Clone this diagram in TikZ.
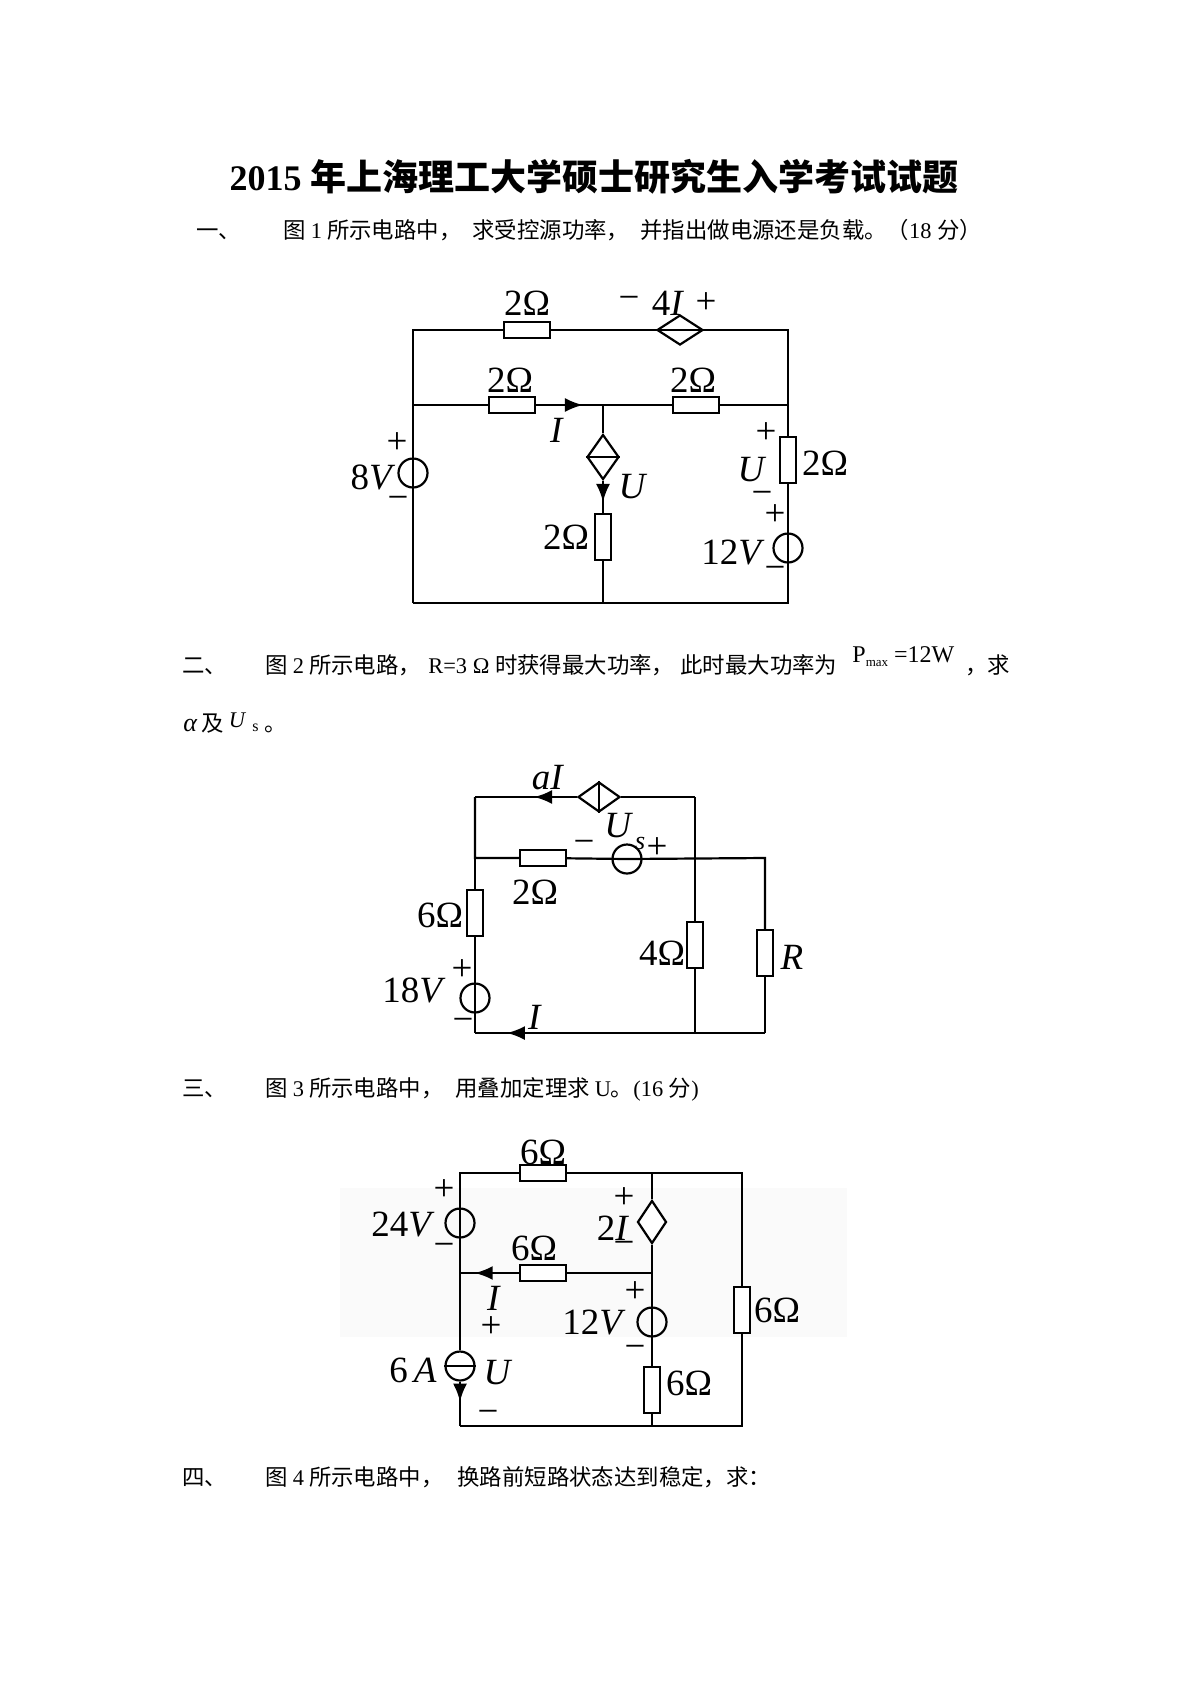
\documentclass[tikz,border=0pt]{standalone}
\usepackage{fontspec}
\setmainfont{Liberation Serif}
\newfontfamily\cjk{Noto Sans CJK SC}
\usetikzlibrary{shapes.geometric, arrows.meta, decorations.markings}
\newcommand{\cfont}{\fontsize{18.5pt}{18.5pt}\selectfont}
\newcommand{\zhfont}{\fontsize{11.2pt}{13pt}\selectfont\cjk}

\tikzset{
  wire/.style={line width=1.1pt},
  res/.style={draw, line width=1.1pt, fill=white, rectangle, minimum width=23pt, minimum height=8pt, inner sep=0pt},
  vres/.style={res, minimum width=8pt, minimum height=23pt},
  src/.style={draw, line width=1.1pt, circle, minimum size=14.5pt, inner sep=0pt},
  dep/.style={draw, line width=1.1pt, diamond, fill=white, inner sep=0pt},
  lbl/.style={font=\cfont, inner sep=0pt},
  txt/.style={font=\zhfont, anchor=base west, inner sep=0pt},
  flow/.style={postaction={decorate}, decoration={markings, mark=at position #1 with {\arrow{Latex[length=9pt,width=7pt]}}}},
}

\begin{document}
\begin{tikzpicture}[x=0.5pt, y=-0.5pt]
  \useasboundingbox (0,0) rectangle (1190,1683);
  \fill[white] (0,0) rectangle (1190,1683);

  % title and questions
  \node[font=\fontsize{18pt}{20pt}\selectfont, anchor=base, inner sep=0pt] (title) at (594,190)
    {\textbf{2015} {\cjk\bfseries 年上海理工大学硕士研究生入学考试试题}};

  \node[txt] (q1) at (196,238) {一、};
  \node[txt] (q1a) at (283,238) {图 {\rmfamily 1} 所示电路中，};
  \node[txt] (q1b) at (472,238) {求受控源功率，};
  \node[txt] (q1c) at (640,238) {并指出做电源还是负载。（{\rmfamily 18 }分）};

  \node[txt] (q2) at (182,673) {二、};
  \node[txt] (q2a) at (265,673) {图 {\rmfamily 2} 所示电路，};
  \node[txt] (q2b) at (428,673) {{\rmfamily R=3 Ω }时获得最大功率，};
  \node[txt] (q2c) at (680,673) {此时最大功率为};
  \node[txt] (q2d) at (852,662) {\rmfamily\fontsize{12pt}{12pt}\selectfont P\raisebox{-2pt}{\fontsize{6.5pt}{7pt}\selectfont max} =12W};
  \node[txt] (q2e) at (965,673) {，求};
  \node[txt] (q2f) at (183,731) {\rmfamily{\fontsize{13pt}{13pt}\selectfont\textit{α}}\hspace{2pt}{\cjk 及}\hspace{2.5pt}\raisebox{2pt}{\textit{U}}\hspace{3pt}{\fontsize{8pt}{8pt}\selectfont s}\hspace{3pt}{\cjk 。}};

  \node[txt] (q3) at (182,1096) {三、};
  \node[txt] (q3a) at (265,1096) {图 {\rmfamily 3} 所示电路中，};
  \node[txt] (q3b) at (455,1096) {用叠加定理求 {\rmfamily U}。{\rmfamily (16 }分{\rmfamily )}};

  \node[txt] (q4) at (182,1485) {四、};
  \node[txt] (q4a) at (265,1485) {图 {\rmfamily 4} 所示电路中，};
  \node[txt] (q4b) at (457,1485) {换路前短路状态达到稳定，求：};

  % figure 1
  \coordinate (a1) at (413,330);
  \coordinate (a2) at (788,330);
  \coordinate (a3) at (413,405);
  \coordinate (a4) at (603,405);
  \coordinate (a5) at (788,405);
  \coordinate (a6) at (413,603);
  \coordinate (a7) at (603,603);
  \coordinate (a8) at (788,603);

  \node[res] (r1) at (527,330) {};
  \node[dep, minimum width=23pt, minimum height=15pt] (d1) at (680,330) {};
  \node[res] (r2) at (512,405) {};
  \node[res] (r3) at (696,405) {};
  \node[dep, minimum width=16pt, minimum height=22.5pt] (d2) at (603,457) {};
  \node[vres] (r4) at (603,537) {};
  \node[vres] (r5) at (788,460) {};
  \node[src] (v12) at (788,548) {};
  \node[src] (v8) at (413,473) {};

  \draw[wire] (a6) -- (v8.center) -- (a1) -- (r1) -- (d1) -- (a2) -- (r5);
  \draw[wire] (r5) -- (v12.center) -- (a8) -- (a6);
  \draw[wire] (a3) -- (r2);
  \draw[wire, flow=0.7] (r2) -- (a4);
  \draw[wire] (a4) -- (r3) -- (a5);
  \draw[wire] (a4) -- (d2);
  \draw[wire, flow=0.66] (d2) -- (r4);
  \draw[wire] (r4) -- (a7);
  \draw[wire] (d1.west) -- (d1.east);
  \draw[wire] (d2.west) -- (d2.east);

  \node[lbl] (l1) at (527,303) {2Ω};
  \node[lbl] (l2) at (629,303) {−};
  \node[lbl] (l3) at (668,303) {4\textit{I}};
  \node[lbl] (l4) at (706,303) {+};
  \node[lbl] (l5) at (510,380) {2Ω};
  \node[lbl] (l6) at (693,380) {2Ω};
  \node[lbl] (l7) at (557,430) {\textit{I}};
  \node[lbl] (l8) at (633,487) {\textit{U}};
  \node[lbl] (l9) at (566,537) {2Ω};
  \node[lbl] (l10) at (825,463) {2Ω};
  \node[lbl] (l11) at (766,433) {+};
  \node[lbl] (l12) at (752,470) {\textit{U}};
  \node[lbl] (l13) at (762,498) {−};
  \node[lbl] (l14) at (775,515) {+};
  \node[lbl] (l15) at (733,553) {12\textit{V}};
  \node[lbl] (l16) at (775,573) {−};
  \node[lbl] (l17) at (373,477) {8\textit{V}};
  \node[lbl] (l18) at (397,443) {+};
  \node[lbl] (l19) at (398,503) {−};

  % figure 2
  \coordinate (b1) at (475,797);
  \coordinate (b2) at (695,797);
  \coordinate (b3) at (475,858);
  \coordinate (b4) at (695,858);
  \coordinate (b5) at (765,858);
  \coordinate (b6) at (475,1033);
  \coordinate (b7) at (695,1033);
  \coordinate (b8) at (765,1033);

  \node[dep, minimum width=21pt, minimum height=15pt] (d3) at (599,797) {};
  \node[res] (r6) at (543,858) {};
  \node[src] (us) at (627,859) {};
  \node[vres] (r7) at (475,913) {};
  \node[src] (v18) at (475,998) {};
  \node[vres] (r8) at (695,945) {};
  \node[vres] (r9) at (765,953) {};

  \draw[wire] (b2) -- (d3);
  \draw[wire, flow=0.42] (d3) -- (b1);
  \draw[wire] (b1) -- (b3) -- (r6) -- (us.center) -- (b5) -- (r9);
  \draw[wire] (b2) -- (r8);
  \draw[wire] (r8) -- (b7);
  \draw[wire] (b3) -- (r7) -- (v18.center) -- (b6);
  \draw[wire] (r9) -- (b8);
  \draw[wire, flow=0.89] (b8) -- (b6);
  \draw[wire] (d3.north) -- (d3.south);

  \node[lbl] (m1) at (548,778) {\textit{aI}};
  \node[lbl, anchor=base west] (m2) at (604,837) {\textit{U}\kern1pt\raisebox{-6pt}{\fontsize{13pt}{13pt}\selectfont\textit{s}}};
  \node[lbl] (m3) at (584,847) {−};
  \node[lbl] (m4) at (657,848) {+};
  \node[lbl] (m5) at (535,892) {2Ω};
  \node[lbl] (m6) at (440,915) {6Ω};
  \node[lbl] (m7) at (414,990) {18\textit{V}};
  \node[lbl] (m8) at (462,970) {+};
  \node[lbl] (m9) at (463,1025) {−};
  \node[lbl] (m10) at (535,1017) {\textit{I}};
  \node[lbl] (m11) at (662,953) {4Ω};
  \node[lbl] (m12) at (792,957) {\textit{R}};

  % figure 3
  \fill[black!2] (340,1188) rectangle (847,1337);
  \coordinate (c1) at (460,1173);
  \coordinate (c2) at (652,1173);
  \coordinate (c3) at (742,1173);
  \coordinate (c4) at (460,1273);
  \coordinate (c5) at (652,1273);
  \coordinate (c6) at (460,1426);
  \coordinate (c7) at (652,1426);
  \coordinate (c8) at (742,1426);

  \node[res] (r10) at (543,1173) {};
  \node[src] (v24) at (460,1223) {};
  \node[dep, minimum width=14.5pt, minimum height=21.5pt] (d4) at (652,1222) {};
  \node[res] (r11) at (543,1273) {};
  \node[src] (i6) at (460,1366) {};
  \node[src] (v12b) at (652,1322) {};
  \node[vres] (r12) at (652,1390) {};
  \node[vres] (r13) at (742,1310) {};

  \draw[wire] (c4) -- (v24.center) -- (c1) -- (r10) -- (c2) -- (c3) -- (r13);
  \draw[wire] (r13) -- (c8) -- (c6);
  \draw[wire] (c4) -- (i6);
  \draw[wire, flow=0.45] (i6) -- (c6);
  \draw[wire] (i6.west) -- (i6.east);
  \draw[wire] (c2) -- (d4);
  \draw[wire] (d4) -- (c5);
  \draw[wire] (c5) -- (r11);
  \draw[wire, flow=0.75] (r11) -- (c4);
  \draw[wire] (c5) -- (v12b.center) -- (r12);
  \draw[wire] (r12) -- (c7);

  \node[lbl] (n1) at (543,1152) {6Ω};
  \node[lbl] (n2) at (403,1225) {24\textit{V}};
  \node[lbl] (n3) at (444,1190) {+};
  \node[lbl] (n4) at (444,1250) {−};
  \node[lbl] (n5) at (624,1198) {+};
  \node[lbl] (n6) at (613,1228) {2\textit{I}};
  \node[lbl] (n7) at (624,1248) {−};
  \node[lbl] (n8) at (534,1248) {6Ω};
  \node[lbl] (n9) at (494,1298) {\textit{I}};
  \node[lbl] (n10) at (491,1327) {+};
  \node[lbl] (n11) at (498,1373) {\textit{U}};
  \node[lbl] (n12) at (488,1417) {−};
  \node[lbl] (n13) at (413,1370) {6\,\textit{A}};
  \node[lbl] (n14) at (635,1292) {+};
  \node[lbl] (n15) at (594,1323) {12\textit{V}};
  \node[lbl] (n16) at (635,1352) {−};
  \node[lbl] (n17) at (689,1383) {6Ω};
  \node[lbl] (n18) at (777,1310) {6Ω};
\end{tikzpicture}
\end{document}
